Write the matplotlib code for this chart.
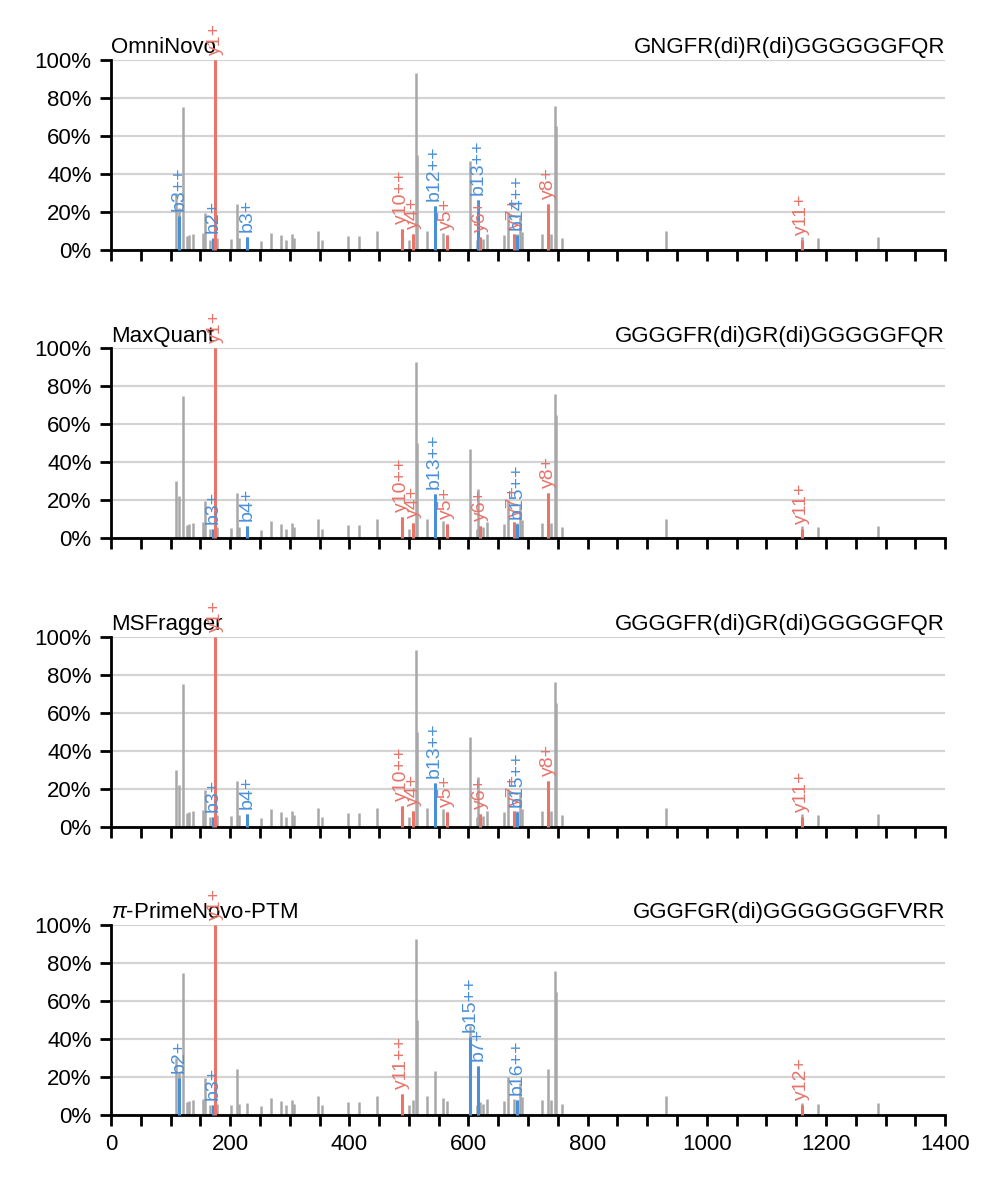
import matplotlib
matplotlib.use('Agg')
import matplotlib.pyplot as plt
from matplotlib.ticker import MultipleLocator, PercentFormatter

plt.rcParams['font.family'] = ['Liberation Sans', 'DejaVu Sans']
plt.rcParams['mathtext.fontset'] = 'custom'
plt.rcParams['mathtext.it'] = 'Liberation Sans:italic'

# observed spectrum (m/z, relative intensity %)
peak_mz = [109, 115, 120.3, 127, 130.5, 137, 154, 158, 166, 172, 175.1, 178.5,
           201.5, 211, 215, 229, 252, 268.6, 285, 294, 304.4, 307, 348, 353.6,
           398, 416, 446, 488, 501, 507.5, 512, 513.3, 530, 543, 557, 563.5,
           602.7, 614, 616.5, 620, 625, 630.6, 659, 667, 676.5, 681, 686.6,
           690.5, 723, 734, 738.6, 745.3, 746.6, 756.5, 931, 1159.5, 1187.4, 1287]
peak_int = [30, 22, 75, 7, 7.5, 8, 8.6, 19.5, 5, 5, 100, 6,
            5.5, 24, 6, 6.5, 4.5, 9, 7.5, 5, 8, 6, 10, 5,
            7, 7, 10, 11, 5, 8, 93, 50, 10, 23, 9, 7.5,
            47, 5, 26, 6.6, 5.7, 8.4, 7.5, 20, 8.4, 8, 17,
            9.5, 8, 24, 8, 76, 65, 6, 10, 6.5, 6, 6.5]

tools = ['OmniNovo', 'MaxQuant', 'MSFragger', r'$\pi$-PrimeNovo-PTM']
sequences = ['GNGFR(di)R(di)GGGGGGFQR', 'GGGGFR(di)GR(di)GGGGGFQR',
             'GGGGFR(di)GR(di)GGGGGFQR', 'GGGFGR(di)GGGGGGGFVRR']

# matched ions per tool: (label, m/z, intensity %)
omni_ions = [('b3++', 115, 18), ('b2+', 172, 6), ('y1+', 175.1, 100),
             ('b3+', 229, 6.5), ('y10++', 488, 11), ('y4+', 507.5, 8),
             ('b12++', 543, 23), ('y5+', 563.5, 7.5), ('b13++', 616.5, 26),
             ('y6+', 620, 6.6), ('y7+', 676.5, 8.4), ('b14++', 681, 7.5),
             ('y8+', 734, 24), ('y11+', 1159.5, 5)]
maxq_ions = [('b3+', 172, 5), ('y1+', 175.1, 100), ('b4+', 229, 6.5),
             ('y10++', 488, 11), ('y4+', 507.5, 8), ('b13++', 543, 23),
             ('y5+', 563.5, 7.5), ('y6+', 620, 6.6), ('y7+', 676.5, 8.4),
             ('b15++', 681, 7.5), ('y8+', 734, 24), ('y11+', 1159.5, 5)]
msf_ions = list(maxq_ions)
prime_ions = [('b2+', 115, 19.5), ('b3+', 172, 5), ('y1+', 175.1, 100),
              ('y11++', 488, 11), ('b15++', 602.7, 41), ('b7+', 616.5, 26),
              ('b16++', 681, 8), ('y12+', 1159.5, 5)]
all_ions = [omni_ions, maxq_ions, msf_ions, prime_ions]

GRAY = '#a8a8a8'
RED = '#e8746a'
BLUE = '#4a90d9'

fig, axes = plt.subplots(4, 1, figsize=(4.99, 5.93), dpi=200, sharex=True)
fig.subplots_adjust(left=0.1112, right=0.947, top=0.9494, bottom=0.0599, hspace=0.521)

for ax, tool, seq, ions in zip(axes, tools, sequences, all_ions):
    ax.vlines(peak_mz, 0, peak_int, colors=GRAY, lw=0.9, zorder=2)
    for lab, mz, inten in ions:
        c = RED if lab.startswith('y') else BLUE
        ax.vlines(mz, 0, inten, colors=c, lw=1.1, zorder=3, clip_on=False)
        ax.annotate(lab, (mz, inten), xytext=(0, 1.8), textcoords='offset points',
                    rotation=90, ha='center', va='bottom', fontsize=7, color=c,
                    annotation_clip=False, zorder=4)
    ax.set_xlim(0, 1400)
    ax.set_ylim(0, 100)
    ax.yaxis.set_major_locator(MultipleLocator(20))
    ax.yaxis.set_major_formatter(PercentFormatter(decimals=0))
    ax.xaxis.set_major_locator(MultipleLocator(200))
    ax.xaxis.set_minor_locator(MultipleLocator(50))
    ax.grid(axis='y', color='#d3d3d3', lw=0.8)
    ax.set_axisbelow(True)
    for s in ['top', 'right']:
        ax.spines[s].set_visible(False)
    for s in ['left', 'bottom']:
        ax.spines[s].set_linewidth(1.0)
    ax.tick_params(which='both', direction='out', length=4, width=1.0,
                   labelsize=8, pad=3)
    ax.set_title(tool, loc='left', fontsize=8, pad=2.5)
    ax.set_title(seq, loc='right', fontsize=8, pad=2.5)

fig.savefig('out.png', dpi=200)
